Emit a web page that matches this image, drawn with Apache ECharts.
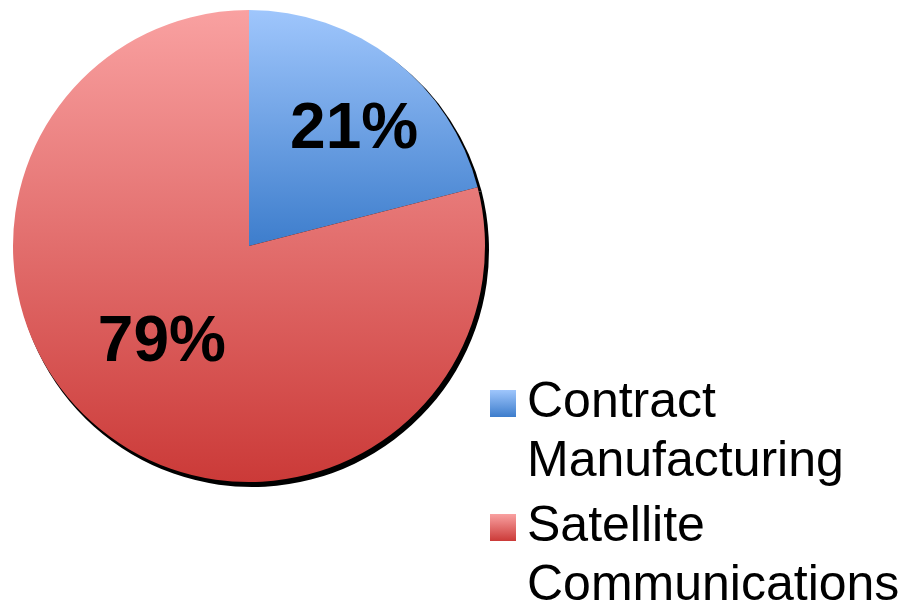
<!DOCTYPE html>
<html>
<head>
<meta charset="utf-8">
<script src="https://cdn.jsdelivr.net/npm/echarts@6/dist/echarts.min.js"></script>
<style>
  html, body { margin: 0; padding: 0; background: #fff; }
  #main { width: 907px; height: 605px; }
</style>
</head>
<body>
<div id="main"></div>
<script>
// chart data
var categories = ["Contract\nManufacturing", "Satellite\nCommunications"];
var values = [21, 79];
var labels = ["21%", "79%"];

var chartDom = document.getElementById("main");
var myChart = echarts.init(chartDom);

// top -> bottom colour of each slice
var colorStops = [
  ["#9fc6fc", "#3d7dcc"],
  ["#f9a1a1", "#cb3a38"],
];
var labelOffsets = [
  [31, -20],
  [-13, 2],
];

function grad(c) {
  return new echarts.graphic.LinearGradient(0, 0, 0, 1, [
    { offset: 0, color: c[0] },
    { offset: 1, color: c[1] },
  ]);
}

var pieData = categories.map(function (name, i) {
  return {
    name: name,
    value: values[i],
    itemStyle: { color: grad(colorStops[i]) },
    label: { formatter: labels[i], offset: labelOffsets[i] },
  };
});

var shadowData = categories.map(function (name, i) {
  return { name: name, value: values[i] };
});

var option = {
  animation: false,
  legend: {
    orient: "vertical",
    left: 490,
    top: 315,
    height: 500,
    padding: 0,
    itemWidth: 26,
    itemHeight: 27,
    itemGap: -53,
    icon: "rect",
    selectedMode: false,
    data: categories,
    // blank first line keeps the icon level with the first text line
    formatter: function (name) {
      return "\n" + name;
    },
    textStyle: {
      fontFamily: "Liberation Sans",
      fontSize: 50,
      lineHeight: 59,
      color: "#000",
      padding: [0, 0, 0, 6],
    },
  },
  series: [
    {
      name: "share",
      type: "pie",
      radius: 236,
      center: [249, 246],
      startAngle: 90,
      clockwise: true,
      z: 2,
      label: {
        show: true,
        position: "inside",
        fontFamily: "Liberation Sans",
        fontWeight: "bold",
        fontSize: 64,
        color: "#000",
      },
      labelLine: { show: false },
      emphasis: { disabled: true },
      data: pieData,
    },
    {
      // dark edge under the pie
      type: "pie",
      silent: true,
      radius: 237,
      center: [252, 250],
      startAngle: 90,
      clockwise: true,
      z: 1,
      legendHoverLink: false,
      itemStyle: { color: "#000" },
      label: { show: false },
      labelLine: { show: false },
      emphasis: { disabled: true },
      data: shadowData,
    },
  ],
};

option && myChart.setOption(option);
</script>
</body>
</html>
